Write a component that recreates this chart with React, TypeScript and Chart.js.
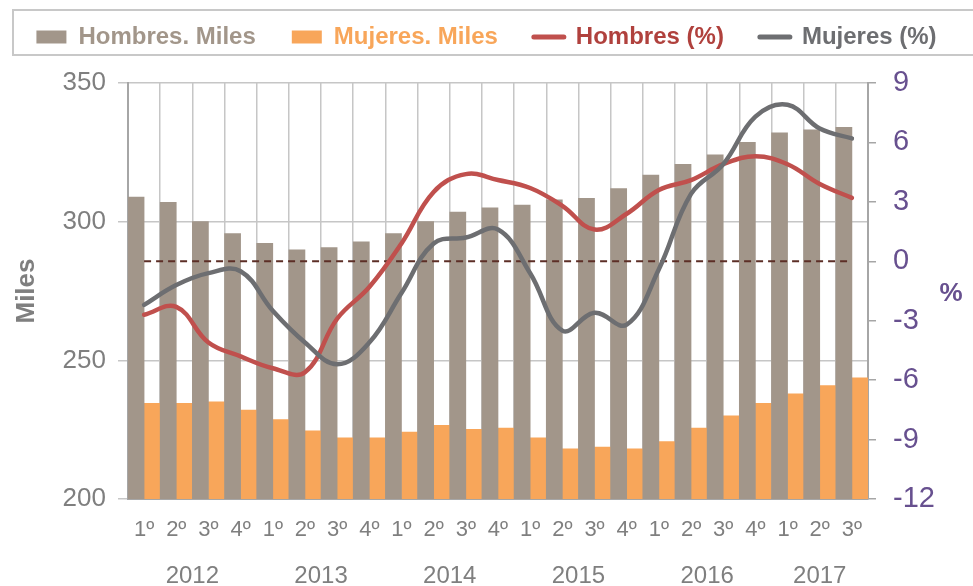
import React, { useEffect, useRef } from "react";
import { Chart, registerables } from "chart.js";

Chart.register(...registerables);

const quarters = ["1º","2º","3º","4º","1º","2º","3º","4º","1º","2º","3º","4º","1º","2º","3º","4º","1º","2º","3º","4º","1º","2º","3º"];
const years = ["2012","2013","2014","2015","2016","2017"];
const yearPositions = [1.5, 5.5, 9.5, 13.5, 17.5, 21];

const hombresMiles = [308.9, 307.0, 300.0, 295.7, 292.2, 289.8, 290.7, 292.7, 295.7, 300.0, 303.5, 305.0, 306.0, 307.9, 308.4, 311.9, 316.8, 320.7, 324.1, 328.6, 332.0, 333.1, 334.0];
const mujeresMiles = [234.5, 234.5, 235.0, 232.1, 228.6, 224.6, 222.1, 222.1, 224.1, 226.6, 225.1, 225.6, 222.1, 218.1, 218.7, 218.1, 220.7, 225.6, 230.0, 234.5, 237.9, 240.9, 243.7];
const hombresPct = [-2.7, -2.3, -4.1, -4.8, -5.4, -5.6, -2.9, -1.3, 0.9, 3.5, 4.4, 4.1, 3.7, 2.8, 1.6, 2.4, 3.6, 4.1, 4.9, 5.3, 4.9, 3.9, 3.2];
const mujeresPct = [-2.2, -1.2, -0.6, -0.5, -2.5, -4.1, -5.2, -4.1, -1.6, 0.9, 1.2, 1.6, -0.6, -3.5, -2.6, -3.2, -0.4, 3.4, 4.9, 7.3, 7.9, 6.7, 6.2];
const zeroLine = quarters.map(() => 0);

const leftTicks = [200, 250, 300, 350];
const rightTicks = [-12, -9, -6, -3, 0, 3, 6, 9];

const FONT = "'Liberation Sans', Arial, sans-serif";
const C_GREYBAR = "#a2968a";
const C_ORANGE = "#f8a65a";
const C_RED = "#c0504d";
const C_RED_TXT = "#b0413d";
const C_GREYLINE = "#6d6e71";
const C_PURPLE = "#67508f";
const C_TICK = "#7f7f7f";
const C_GRID = "#c6c6c6";
const C_AXIS = "#a6a6a6";

const extrasPlugin = {
  id: "extras",
  beforeDraw(chart: any) {
    const ctx = chart.ctx;
    ctx.save();
    ctx.strokeStyle = "#c8c8c8";
    ctx.lineWidth = 2;
    ctx.strokeRect(13, 10, 990, 45);
    ctx.restore();
  },
  afterDraw(chart: any) {
    const s = chart.scales.y1;
    const ctx = chart.ctx;
    ctx.save();
    ctx.font = `bold 26px ${FONT}`;
    ctx.fillStyle = C_PURPLE;
    ctx.textAlign = "center";
    ctx.textBaseline = "middle";
    ctx.fillText("%", s.right - 22, (s.top + s.bottom) / 2 + 3);
    ctx.restore();
  },
};

export default function App() {
  const ref = useRef<HTMLCanvasElement | null>(null);

  useEffect(() => {
    document.body.style.margin = "0";
    const canvas = ref.current;
    if (!canvas) return;
    const chart = new Chart(canvas, {
      type: "bar",
      data: {
        labels: quarters,
        datasets: [
          {
            type: "line",
            label: "Mujeres (%)",
            data: mujeresPct,
            xAxisID: "x",
            yAxisID: "y1",
            borderColor: C_GREYLINE,
            backgroundColor: C_GREYLINE,
            borderWidth: 4.5,
            borderCapStyle: "round",
            tension: 0.4,
            pointRadius: 0,
            order: 0,
          } as any,
          {
            type: "line",
            label: "Hombres (%)",
            data: hombresPct,
            xAxisID: "x",
            yAxisID: "y1",
            borderColor: C_RED,
            backgroundColor: C_RED,
            borderWidth: 4.5,
            borderCapStyle: "round",
            tension: 0.4,
            pointRadius: 0,
            order: 1,
          } as any,
          {
            type: "line",
            label: "cero",
            data: zeroLine,
            xAxisID: "x",
            yAxisID: "y1",
            borderColor: "#5c2e26",
            borderWidth: 2,
            borderDash: [7, 5],
            pointRadius: 0,
            tension: 0,
            order: 2,
          } as any,
          {
            type: "bar",
            label: "Hombres. Miles",
            data: hombresMiles,
            xAxisID: "x",
            yAxisID: "y",
            backgroundColor: C_GREYBAR,
            categoryPercentage: 1,
            barPercentage: 1,
            order: 3,
          } as any,
          {
            type: "bar",
            label: "Mujeres. Miles",
            data: mujeresMiles,
            xAxisID: "x",
            yAxisID: "y",
            backgroundColor: C_ORANGE,
            categoryPercentage: 1,
            barPercentage: 1,
            order: 4,
          } as any,
        ],
      },
      options: {
        animation: false,
        responsive: false,
        layout: { padding: { top: -11, left: 0, right: 0, bottom: 0 } },
        plugins: {
          tooltip: { enabled: false },
          legend: {
            display: true,
            position: "top",
            labels: {
              usePointStyle: true,
              pointStyleWidth: 30,
              boxHeight: 13,
              padding: 36,
              font: { size: 24, weight: "bold", family: FONT },
              generateLabels: () => [
                { text: "Hombres. Miles", fillStyle: C_GREYBAR, strokeStyle: C_GREYBAR, lineWidth: 0, pointStyle: "rect", fontColor: C_GREYBAR, hidden: false, datasetIndex: 3 },
                { text: "Mujeres. Miles", fillStyle: C_ORANGE, strokeStyle: C_ORANGE, lineWidth: 0, pointStyle: "rect", fontColor: C_ORANGE, hidden: false, datasetIndex: 4 },
                { text: "Hombres (%)", fillStyle: C_RED, strokeStyle: C_RED, lineWidth: 5, lineCap: "round", pointStyle: "line", fontColor: C_RED_TXT, hidden: false, datasetIndex: 1 },
                { text: "Mujeres (%)", fillStyle: C_GREYLINE, strokeStyle: C_GREYLINE, lineWidth: 5, lineCap: "round", pointStyle: "line", fontColor: C_GREYLINE, hidden: false, datasetIndex: 0 },
              ],
            },
          } as any,
        },
        scales: {
          x: {
            type: "category",
            position: "bottom",
            offset: true,
            weight: 0,
            grid: { display: true, offset: true, color: C_GRID, lineWidth: 1.5, drawTicks: false },
            border: { display: true, color: C_AXIS, width: 2 },
            ticks: { color: C_TICK, font: { size: 22, family: FONT }, padding: 18, autoSkip: false, maxRotation: 0 },
            afterFit: (s: any) => { s.height = 50; },
          } as any,
          xYear: {
            type: "linear",
            position: "bottom",
            weight: 1,
            offset: false,
            min: -0.5,
            max: 22.5,
            bounds: "data",
            afterBuildTicks: (s: any) => {
              s.ticks = yearPositions.map((v) => ({ value: v }));
              s.min = -0.5;
              s.max = 22.5;
            },
            ticks: {
              color: C_TICK,
              font: { size: 24, family: FONT },
              padding: 5,
              autoSkip: false,
              maxRotation: 0,
              callback: (_v: any, i: number) => years[i],
            },
            grid: { display: false, offset: false },
            border: { display: false },
            afterFit: (s: any) => { s.height = 37; },
          } as any,
          xTop: {
            type: "linear",
            position: "top",
            display: true,
            offset: false,
            min: 0,
            max: 1,
            ticks: { display: false },
            grid: { display: false },
            border: { display: false },
            afterFit: (s: any) => { s.height = 24; },
          } as any,
          y: {
            type: "linear",
            position: "left",
            min: 200,
            max: 350,
            afterBuildTicks: (s: any) => { s.ticks = leftTicks.map((v) => ({ value: v })); },
            grid: { color: C_GRID, lineWidth: 1.5, tickLength: 10, drawTicks: true },
            border: { display: true, color: C_AXIS, width: 2 },
            ticks: { color: C_TICK, font: { size: 26, family: FONT }, padding: 12 },
            title: { display: true, text: "Miles", color: C_TICK, font: { size: 26, weight: "bold", family: FONT }, padding: { top: 11, bottom: 0 } },
            afterFit: (s: any) => { s.width = 128; },
          } as any,
          y1: {
            type: "linear",
            position: "right",
            min: -12,
            max: 9,
            afterBuildTicks: (s: any) => { s.ticks = rightTicks.map((v) => ({ value: v })); },
            grid: { drawOnChartArea: false, color: C_AXIS, lineWidth: 1.5, tickLength: 8, drawTicks: true },
            border: { display: true, color: C_AXIS, width: 2 },
            ticks: { color: C_PURPLE, font: { size: 29, family: FONT }, padding: 17 },
            afterFit: (s: any) => { s.width = 105; },
          } as any,
        },
      } as any,
      plugins: [extrasPlugin],
    });
    return () => chart.destroy();
  }, []);

  return (
    <div style={{ width: 973, height: 586 }}>
      <canvas ref={ref} width={973} height={586} style={{ display: "block", width: 973, height: 586 }} />
    </div>
  );
}
